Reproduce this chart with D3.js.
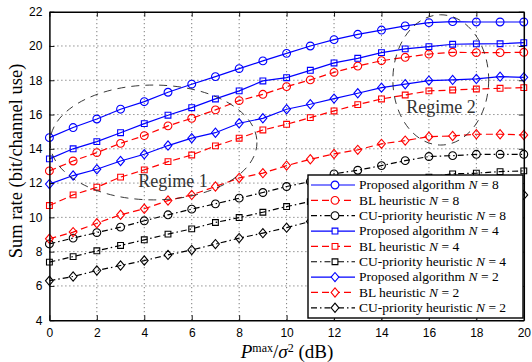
<!DOCTYPE html>
<html>
<head>
<meta charset="utf-8">
<script src="https://cdn.jsdelivr.net/npm/d3@7"></script>
<style>
  body { margin: 0; background: #fff; }
  #chart { width: 532px; height: 362px; }
</style>
</head>
<body>
<div id="chart"></div>
<script>
// x: P^max / sigma^2 in dB
const snr = [0, 1, 2, 3, 4, 5, 6, 7, 8, 9, 10, 11, 12, 13, 14, 15, 16, 17, 18, 19, 20]
const xTicks = [0, 2, 4, 6, 8, 10, 12, 14, 16, 18, 20]
const yTicks = [4, 6, 8, 10, 12, 14, 16, 18, 20, 22]

const proposedN8 = [14.65, 15.24, 15.74, 16.31, 16.75, 17.3, 17.77, 18.21, 18.68, 19.13, 19.57, 20.0, 20.37, 20.68, 20.93, 21.17, 21.36, 21.42, 21.4, 21.4, 21.4]
const blN8 = [12.71, 13.29, 13.78, 14.32, 14.77, 15.34, 15.78, 16.27, 16.81, 17.18, 17.63, 18.02, 18.46, 18.83, 19.14, 19.34, 19.53, 19.63, 19.61, 19.61, 19.63]
const cuN8 = [8.45, 8.79, 9.11, 9.43, 9.8, 10.15, 10.48, 10.79, 11.12, 11.45, 11.8, 12.09, 12.54, 12.75, 13.02, 13.31, 13.55, 13.6, 13.68, 13.68, 13.68]
const proposedN4 = [13.41, 14.0, 14.42, 14.94, 15.47, 15.96, 16.4, 16.91, 17.38, 17.96, 18.15, 18.58, 19.01, 19.28, 19.61, 19.83, 19.96, 20.1, 20.12, 20.13, 20.19]
const blN4 = [10.69, 11.31, 11.76, 12.35, 12.77, 13.25, 13.64, 14.17, 14.62, 15.1, 15.43, 15.82, 16.21, 16.58, 16.91, 17.14, 17.38, 17.43, 17.49, 17.53, 17.57]
const cuN4 = [7.39, 7.71, 8.05, 8.36, 8.69, 9.02, 9.33, 9.7, 9.99, 10.3, 10.63, 10.92, 11.25, 11.55, 11.85, 12.1, 12.35, 12.54, 12.58, 12.67, 12.71]
const proposedN2 = [11.94, 12.44, 12.81, 13.29, 13.68, 14.19, 14.62, 14.94, 15.49, 15.78, 16.31, 16.6, 16.93, 17.24, 17.57, 17.77, 17.98, 18.02, 18.08, 18.21, 18.17]
const blN2 = [8.75, 9.14, 9.66, 10.15, 10.5, 10.98, 11.31, 11.8, 12.3, 12.58, 13.02, 13.39, 13.7, 13.94, 14.29, 14.48, 14.71, 14.75, 14.85, 14.85, 14.81]
const cuN2 = [6.3, 6.55, 6.9, 7.19, 7.48, 7.81, 8.1, 8.44, 8.79, 9.08, 9.4, 9.76, 10.05, 10.35, 10.6, 10.8, 10.98, 11.1, 11.2, 11.27, 11.31]

const seriesNames = ['Proposed algorithm', 'BL heuristic', 'CU-priority heuristic']
const seriesN = [8, 8, 8, 4, 4, 4, 2, 2, 2]
const regimeLabels = ['Regime 1', 'Regime 2']

const width = 532
const height = 362
const margin = { left: 49.4, right: 8.2, top: 11.7, bottom: 41.8 }

const styles = [
  { color: '#0000ff', dash: null },
  { color: '#ff0000', dash: '7,4' },
  { color: '#000000', dash: '6,3,1.5,3' }
]
const markers = ['circle', 'square', 'diamond']

const series = [proposedN8, blN8, cuN8, proposedN4, blN4, cuN4, proposedN2, blN2, cuN2].map((values, i) => ({
  name: seriesNames[i % 3],
  n: seriesN[i],
  style: styles[i % 3],
  marker: markers[Math.floor(i / 3)],
  values: values
}))

const svg = d3.select('#chart')
  .append('svg')
  .attr('width', width)
  .attr('height', height)

const x = d3.scaleLinear().domain([0, 20]).range([margin.left, width - margin.right])
const y = d3.scaleLinear().domain([4, 22]).range([height - margin.bottom, margin.top])

// dotted grid
const grid = svg.append('g')
  .attr('stroke', '#333')
  .attr('stroke-width', 0.8)
  .attr('stroke-dasharray', '1,3')
grid.selectAll('.gx')
  .data(xTicks.slice(1, -1))
  .enter()
  .append('line')
  .attr('x1', d => x(d))
  .attr('x2', d => x(d))
  .attr('y1', y(4))
  .attr('y2', y(22))
grid.selectAll('.gy')
  .data(yTicks.slice(1, -1))
  .enter()
  .append('line')
  .attr('x1', x(0))
  .attr('x2', x(20))
  .attr('y1', d => y(d))
  .attr('y2', d => y(d))

// marker shapes
function markerPath (type) {
  if (type === 'circle') {
    const r = 3.9
    return `M${-r},0A${r},${r} 0 1,0 ${r},0A${r},${r} 0 1,0 ${-r},0Z`
  } else if (type === 'square') {
    const s = 2.9
    return `M${-s},${-s}H${s}V${s}H${-s}Z`
  }
  return 'M0,-4.6L3.9,0L0,4.6L-3.9,0Z'
}

const line = d3.line()
  .x((d, i) => x(snr[i]))
  .y(d => y(d))

const gSeries = svg.selectAll('.series')
  .data(series)
  .enter()
  .append('g')
  .attr('class', 'series')

gSeries.append('path')
  .attr('d', d => line(d.values))
  .attr('fill', 'none')
  .attr('stroke', d => d.style.color)
  .attr('stroke-width', 1.2)
  .attr('stroke-dasharray', d => d.style.dash)

gSeries.selectAll('.mk')
  .data(d => d.values.map((v, i) => ({ v: v, i: i, s: d })))
  .enter()
  .append('path')
  .attr('class', 'mk')
  .attr('transform', d => `translate(${x(snr[d.i])},${y(d.v)})`)
  .attr('d', d => markerPath(d.s.marker))
  .attr('fill', 'none')
  .attr('stroke', d => d.s.style.color)
  .attr('stroke-width', 1.1)

// regime ellipses
const regimes = [
  { cx: 4.39, cy: 14.37, rx: 4.36, ry: 3.35, tx: 5.21, ty: 11.78 },
  { cx: 16.5, cy: 18.02, rx: 2.02, ry: 3.8, tx: 16.51, ty: 16.09 }
]
svg.selectAll('.regime')
  .data(regimes)
  .enter()
  .append('ellipse')
  .attr('cx', d => x(d.cx))
  .attr('cy', d => y(d.cy))
  .attr('rx', d => x(d.rx) - x(0))
  .attr('ry', d => y(0) - y(d.ry))
  .attr('fill', 'none')
  .attr('stroke', '#222')
  .attr('stroke-width', 0.9)
  .attr('stroke-dasharray', '8,6')
svg.selectAll('.regimeText')
  .data(regimes)
  .enter()
  .append('text')
  .attr('x', d => x(d.tx))
  .attr('y', d => y(d.ty))
  .attr('text-anchor', 'middle')
  .attr('font-family', 'Liberation Serif, serif')
  .attr('font-size', 18)
  .attr('fill', '#333')
  .text((d, i) => regimeLabels[i])

// axes box with inward ticks on all sides
const tickFont = 'Liberation Sans, Arial, sans-serif'
const axisBottom = svg.append('g')
  .attr('transform', `translate(0,${y(4)})`)
  .call(d3.axisBottom(x).tickValues(xTicks).tickSizeInner(-5).tickSizeOuter(0).tickPadding(8))
const axisLeft = svg.append('g')
  .attr('transform', `translate(${x(0)},0)`)
  .call(d3.axisLeft(y).tickValues(yTicks).tickSizeInner(-5).tickSizeOuter(0).tickPadding(7))
svg.append('g')
  .attr('transform', `translate(0,${y(22)})`)
  .call(d3.axisTop(x).tickValues(xTicks).tickSizeInner(-5).tickSizeOuter(0).tickFormat(''))
svg.append('g')
  .attr('transform', `translate(${x(20)},0)`)
  .call(d3.axisRight(y).tickValues(yTicks).tickSizeInner(-5).tickSizeOuter(0).tickFormat(''))
svg.selectAll('.domain').attr('stroke', '#000').attr('stroke-width', 1.5)
svg.selectAll('.tick line').attr('stroke', '#000').attr('stroke-width', 0.9)
axisBottom.selectAll('text').attr('font-family', tickFont).attr('font-size', 12).attr('fill', '#000')
axisLeft.selectAll('text').attr('font-family', tickFont).attr('font-size', 12).attr('fill', '#000')

// legend
const legendRowH = 15.35
const legend = svg.append('g')
  .attr('transform', 'translate(308,175)')
legend.append('rect')
  .attr('width', 215)
  .attr('height', 143)
  .attr('fill', '#fff')
  .attr('stroke', '#000')
  .attr('stroke-width', 1.4)
const rows = legend.selectAll('.row')
  .data(series)
  .enter()
  .append('g')
  .attr('class', 'row')
  .attr('transform', (d, i) => `translate(0,${10 + i * legendRowH})`)
rows.append('line')
  .attr('x1', 3)
  .attr('x2', 47)
  .attr('stroke', d => d.style.color)
  .attr('stroke-width', 1.2)
  .attr('stroke-dasharray', d => d.style.dash)
rows.append('path')
  .attr('transform', 'translate(27,0)')
  .attr('d', d => markerPath(d.marker))
  .attr('fill', '#fff')
  .attr('stroke', d => d.style.color)
  .attr('stroke-width', 1.1)
const labels = rows.append('text')
  .attr('x', 51)
  .attr('y', 4.3)
  .attr('font-family', 'Liberation Serif, serif')
  .attr('font-size', 13.5)
  .attr('fill', '#000')
labels.append('tspan').text(d => d.name + ' ')
labels.append('tspan').attr('font-style', 'italic').text('N')
labels.append('tspan').text(d => ' = ' + d.n)

// axis titles
const xt = svg.append('text')
  .attr('x', 287)
  .attr('y', 358)
  .attr('text-anchor', 'middle')
  .attr('font-family', 'Liberation Serif, serif')
  .attr('font-size', 19)
  .attr('fill', '#000')
xt.append('tspan').attr('font-style', 'italic').text('P')
xt.append('tspan').attr('font-size', 12).attr('dy', -6).text('max')
xt.append('tspan').attr('dy', 6).text('/')
xt.append('tspan').attr('font-style', 'italic').text('σ')
xt.append('tspan').attr('font-size', 12).attr('dy', -6).text('2')
xt.append('tspan').attr('dy', 6).text(' (dB)')

svg.append('text')
  .attr('transform', 'translate(22,161) rotate(-90)')
  .attr('text-anchor', 'middle')
  .attr('font-family', 'Liberation Serif, serif')
  .attr('font-size', 18.5)
  .attr('fill', '#000')
  .text('Sum rate (bit/channel use)')
</script>
</body>
</html>
